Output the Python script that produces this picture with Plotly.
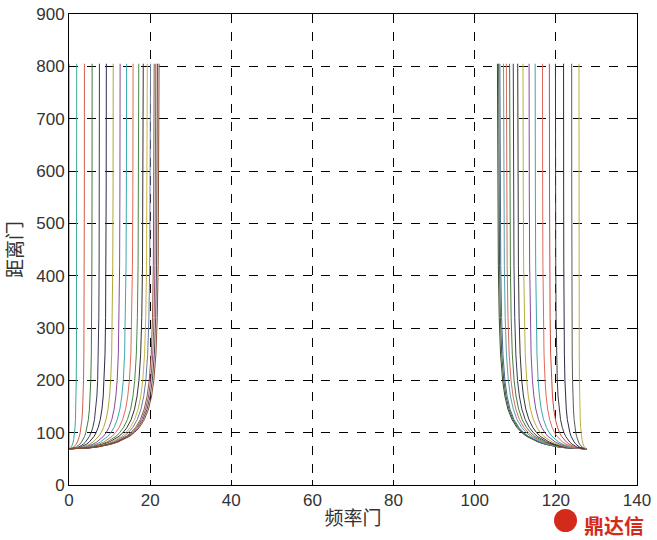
import plotly.graph_objects as go

# Range gates (y) at which the curves were sampled
range_gates = [69, 70, 71, 73, 75, 78, 82, 87, 93, 100, 110, 125, 145, 170, 200, 250, 320, 420, 560, 805]
# Bend profile (fraction of the top offset reached at each gate)
bend_profile = [0.0, 0.169, 0.236, 0.328, 0.393, 0.468, 0.542, 0.611, 0.673, 0.726,
                0.782, 0.837, 0.883, 0.917, 0.942, 0.965, 0.980, 0.990, 0.996, 1.0]

# Left cluster: frequency gate of each curve at the top (converging to 0 at the bottom)
left_origin = 0.0
left_tops = [0.0, 1.9, 3.8, 5.7, 7.5, 9.2, 10.9, 12.6, 14.2, 15.8, 17.2, 18.3, 19.3, 20.1, 21.0, 21.4, 21.8, 22.2]
# Right cluster: frequency gate of each curve at the top (converging to 127.6 at the bottom)
right_origin = 127.6
right_tops = [105.6, 105.9, 106.2, 107.1, 107.8, 108.6, 109.5, 110.6, 111.9, 113.4, 114.9,
              116.7, 118.4, 119.9, 121.9, 123.9, 125.7]

left_colors = ["#a65a90", "#3aa89a", "#d0604a", "#3f7a3f", "#3a3a5a", "#2a2a4a", "#b0a838",
               "#8a4a9a", "#3aa8b0", "#e06a5a", "#4a8a4a", "#333333", "#c8b84a", "#6a7aa0",
               "#8a5a3a", "#a04a7a", "#4a4a4a", "#8a4a2a"]
right_colors = ["#3a4a2a", "#3a5a3a", "#4a6a8a", "#5aa0b0", "#d0705a", "#4a7a3a", "#3a3a5a",
                "#333333", "#b8b040", "#8a4a9a", "#3aa8a8", "#e06a5a", "#d04a3a", "#3a3a3a",
                "#2a2a4a", "#5a5a5a", "#c0b040"]

fig = go.Figure()

for top, col in zip(left_tops, left_colors):
    xs = [left_origin + (top - left_origin) * p for p in bend_profile]
    fig.add_trace(go.Scatter(x=xs, y=range_gates, mode="lines",
                             line=dict(color=col, width=1), showlegend=False, hoverinfo="skip"))

for top, col in zip(right_tops, right_colors):
    xs = [right_origin + (top - right_origin) * p for p in bend_profile]
    fig.add_trace(go.Scatter(x=xs, y=range_gates, mode="lines",
                             line=dict(color=col, width=1), showlegend=False, hoverinfo="skip"))

tick_font = dict(family="Liberation Sans, Arial, sans-serif", size=17, color="#333333")
title_font = dict(family="Noto Sans CJK SC, sans-serif", size=19, color="#333333")

axis_common = dict(
    showgrid=True, gridcolor="black", gridwidth=1, griddash="dash",
    showline=True, linecolor="black", linewidth=1, mirror="ticks",
    ticks="inside", ticklen=5, tickcolor="black", tickfont=tick_font,
    zeroline=False, automargin=False,
)

fig.update_xaxes(range=[0, 140], dtick=20, tick0=0,
                 title=dict(text="频率门", font=title_font, standoff=2), **axis_common)
fig.update_yaxes(range=[0, 900], dtick=100, tick0=0,
                 title=dict(text="距离门", font=title_font, standoff=16), **axis_common)

# Watermark logo
fig.add_shape(type="circle", xref="paper", yref="paper",
              x0=0.8539, x1=0.8944, y0=-0.0998, y1=-0.0509,
              fillcolor="#d42a1c", line=dict(color="#d42a1c", width=0))
fig.add_annotation(text="<b>鼎达信</b>", xref="paper", yref="paper", x=0.9595, y=-0.0525,
                   showarrow=False, xanchor="center", yanchor="top",
                   borderpad=0, yshift=0,
                   font=dict(family="Noto Sans CJK SC, sans-serif", size=20, color="#d42a1c"))

fig.update_layout(
    width=657, height=540,
    margin=dict(l=69, r=20, t=14, b=55, autoexpand=False),
    paper_bgcolor="white", plot_bgcolor="white",
    showlegend=False,
)

fig.write_html("out.html", config={"displayModeBar": False},
               post_script="document.body.style.margin='0';document.body.style.padding='0';")
